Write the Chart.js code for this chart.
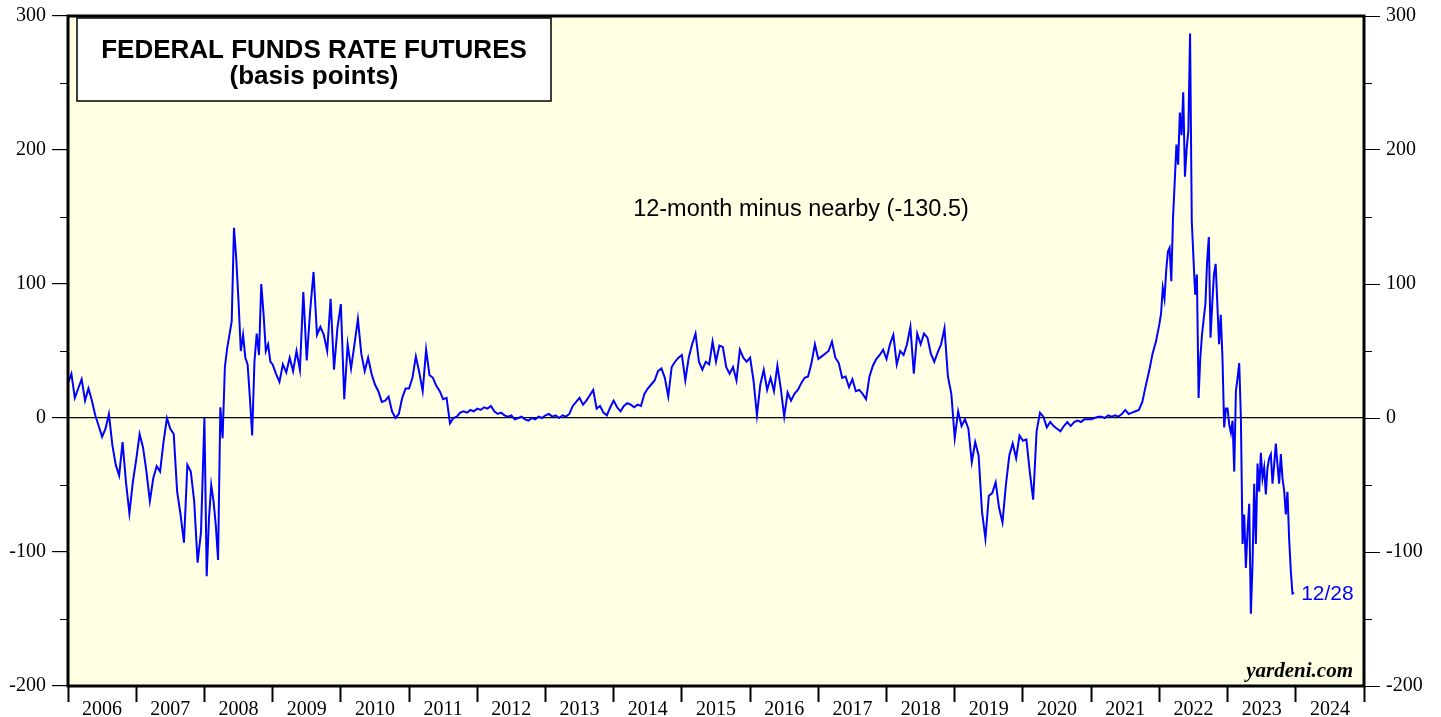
<!DOCTYPE html>
<html>
<head>
<meta charset="utf-8">
<script src="https://cdn.jsdelivr.net/npm/chart.js@4"></script>
<style>
  html, body { margin: 0; padding: 0; background: #ffffff; }
  #chart { display: block; }
</style>
</head>
<body>
<canvas id="chart" width="1441" height="717"></canvas>
<script>
// 12-month minus nearby fed funds futures spread, basis points.
// One array per calendar year, values at even steps within the year.
const years = [2006, 2007, 2008, 2009, 2010, 2011, 2012, 2013, 2014, 2015, 2016, 2017, 2018, 2019, 2020, 2021, 2022, 2023];

const s2006 = [26, 33, 15, 22, 29, 13, 22, 13, 2, -6, -14, -8, 3, -20, -35, -43, -18, -48, -71, -48];
const s2007 = [-31, -12, -22, -40, -62, -45, -36, -40, -18, 0, -8, -12, -55, -72, -93, -35, -40, -62, -108, -85];
const s2008 = [0, -118, -75, -50, -62, -80, -106, 8, -15, 38, 52, 62, 72, 142, 119, 87, 50, 62, 45, 40,
               15, -13, 42, 63, 47, 100, 78, 50, 55, 42];
const s2009 = [40, 33, 27, 40, 34, 45, 35, 50, 36, 94, 43, 80, 109, 62, 68, 62, 50, 89, 36, 67];
const s2010 = [85, 14, 55, 37, 55, 74, 48, 35, 45, 33, 25, 20, 12, 13, 16, 5, 0, 3, 15, 22];
const s2011 = [22, 30, 46, 34, 20, 51, 32, 30, 24, 20, 14, 15, -4, 0, 1, 4, 5, 4, 6, 5];
const s2012 = [7, 6, 8, 7, 9, 5, 3, 4, 2, 1, 2, -1, 0, 1, -1, -2, 0, -1, 1, 0];
const s2013 = [2, 3, 1, 2, 0, 2, 1, 3, 9, 12, 15, 10, 13, 17, 21, 7, 9, 4, 2, 8];
const s2014 = [13, 8, 5, 9, 11, 10, 8, 10, 9, 18, 22, 25, 28, 35, 37, 30, 16, 38, 42, 45];
const s2015 = [47, 28, 45, 55, 63, 42, 36, 42, 40, 57, 42, 54, 53, 38, 33, 38, 28, 51, 45, 42];
const s2016 = [45, 28, 2, 25, 36, 21, 30, 20, 39, 22, 1, 19, 13, 18, 21, 26, 30, 31, 41, 55];
const s2017 = [44, 46, 48, 50, 57, 45, 41, 30, 31, 23, 29, 20, 21, 18, 14, 31, 39, 44, 47, 51];
const s2018 = [44, 55, 62, 40, 50, 47, 55, 68, 33, 63, 55, 63, 60, 48, 42, 49, 55, 67, 31, 18];
const s2019 = [-15, 5, -6, -1, -8, -33, -18, -28, -70, -90, -58, -56, -48, -67, -78, -50, -28, -19, -30, -13];
const s2020 = [-17, -16, -40, -61, -10, 4, 1, -7, -3, -6, -8, -10, -6, -3, -6, -3, -2, -3, -1, -1];
const s2021 = [-1, 0, 1, 1, 0, 2, 1, 2, 1, 3, 6, 3, 4, 5, 6, 12, 24, 35, 48, 57];
const s2022 = [70, 78, 97, 89, 110, 124, 127, 102, 149, 176, 204, 189, 228, 211, 243, 180, 201, 214, 287, 147,
               119, 92, 107, 15, 45, 62, 74, 85, 117, 135, 60, 85, 107, 115, 85, 55, 77, 45, -7, 7];
const s2023 = [7, -5, -11, -2, -40, 20, 30, 41, 0, -94, -72, -112, -84, -64, -146, -109, -49, -94, -34, -55,
               -26, -45, -37, -57, -37, -30, -27, -49, -35, -19, -35, -49, -27, -45, -54, -72, -55, -90, -114, -131,
               -130.5];

const spreadByYear = [s2006, s2007, s2008, s2009, s2010, s2011, s2012, s2013, s2014,
                      s2015, s2016, s2017, s2018, s2019, s2020, s2021, s2022, s2023];

const yearLabels = [2006, 2007, 2008, 2009, 2010, 2011, 2012, 2013, 2014, 2015, 2016, 2017, 2018, 2019, 2020, 2021, 2022, 2023, 2024];
const majorTicks = [-200, -100, 0, 100, 200, 300];
const minorTicks = [-150, -50, 50, 150, 250];
const lastLabel = "12/28";
const seriesLabel = "12-month minus nearby (-130.5)";

// build {x, y} points, x as decimal year
const points = [];
years.forEach((yr, k) => {
  const vals = spreadByYear[k];
  vals.forEach((v, i) => points.push({ x: yr + i / vals.length, y: v }));
});

const SERIF = "'Liberation Serif', 'Times New Roman', serif";
const SANS = "'Liberation Sans', Arial, sans-serif";

// plot background, frame, minor ticks and the text boxes
const decor = {
  id: "decor",
  beforeDraw(chart) {
    const { ctx, chartArea: a } = chart;
    ctx.save();
    ctx.fillStyle = "#FFFFE3";
    ctx.fillRect(a.left, a.top, a.right - a.left, a.bottom - a.top);
    ctx.restore();
  },
  afterDraw(chart) {
    const { ctx, chartArea: a } = chart;
    const yScale = chart.scales.y;
    const xScale = chart.scales.x;
    ctx.save();

    // minor ticks on both sides
    ctx.strokeStyle = "#000";
    ctx.lineWidth = 1;
    minorTicks.forEach((v) => {
      const py = Math.round(yScale.getPixelForValue(v)) + 0.5;
      ctx.beginPath();
      ctx.moveTo(a.left - 8, py);
      ctx.lineTo(a.left, py);
      ctx.moveTo(a.right, py);
      ctx.lineTo(a.right + 8, py);
      ctx.stroke();
    });

    // frame
    ctx.lineWidth = 3;
    ctx.strokeRect(a.left, a.top, a.right - a.left, a.bottom - a.top);

    // title box
    ctx.fillStyle = "#fff";
    ctx.fillRect(77, 18, 474, 83);
    ctx.lineWidth = 1.5;
    ctx.strokeRect(77, 18, 474, 83);
    ctx.fillStyle = "#000";
    ctx.textAlign = "center";
    ctx.textBaseline = "alphabetic";
    ctx.font = "bold 26px " + SANS;
    ctx.fillText("FEDERAL FUNDS RATE FUTURES", 314, 58);
    ctx.fillText("(basis points)", 314, 84);

    // series caption
    ctx.font = "23.5px " + SANS;
    ctx.fillText(seriesLabel, 801, 216);

    // last date label next to the final point
    const last = points[points.length - 1];
    ctx.fillStyle = "#0000FF";
    ctx.textAlign = "left";
    ctx.textBaseline = "middle";
    ctx.font = "21px " + SANS;
    ctx.fillText(lastLabel, xScale.getPixelForValue(last.x) + 7, yScale.getPixelForValue(last.y) + 1);

    // source
    ctx.fillStyle = "#000";
    ctx.textAlign = "right";
    ctx.textBaseline = "alphabetic";
    ctx.font = "bold italic 21px " + SERIF;
    ctx.fillText("yardeni.com", a.right - 11, a.bottom - 9);

    ctx.restore();
  },
};

const yTickColor = (c) => (majorTicks.includes(c.tick.value) ? "#000" : "rgba(0,0,0,0)");

new Chart(document.getElementById("chart"), {
  type: "line",
  data: {
    datasets: [
      {
        data: points,
        borderColor: "#0000FF",
        borderWidth: 2,
        pointRadius: 0,
        tension: 0,
        fill: false,
      },
    ],
  },
  options: {
    responsive: false,
    animation: false,
    layout: { padding: { top: 14, left: 0, right: 0, bottom: 0 } },
    plugins: { legend: { display: false }, tooltip: { enabled: false } },
    scales: {
      x: {
        type: "linear",
        min: 2006,
        max: 2025,
        afterBuildTicks: (scale) => {
          scale.ticks = yearLabels.map((yr) => ({ value: yr + 0.5 }));
        },
        afterFit: (scale) => { scale.height = 31; },
        border: { display: false },
        grid: {
          offset: true,
          drawOnChartArea: false,
          tickLength: 16,
          tickWidth: 2,
          color: "#000",
        },
        ticks: {
          autoSkip: false,
          maxRotation: 0,
          padding: -4,
          color: "#000",
          font: { family: SERIF, size: 20 },
          callback: (v) => String(Math.floor(v)),
        },
      },
      y: {
        position: "left",
        min: -200,
        max: 300,
        afterFit: (scale) => { scale.width = 68; },
        border: { display: false },
        grid: {
          tickLength: 16,
          lineWidth: 1.2,
          color: (c) => (c.tick.value === 0 ? "#000" : "rgba(0,0,0,0)"),
          tickColor: yTickColor,
        },
        ticks: {
          stepSize: 100,
          padding: 6,
          color: "#000",
          font: { family: SERIF, size: 20, lineHeight: 1 },
        },
      },
      y2: {
        position: "right",
        min: -200,
        max: 300,
        afterFit: (scale) => { scale.width = 77; },
        border: { display: false },
        grid: {
          drawOnChartArea: false,
          tickLength: 16,
          tickColor: yTickColor,
        },
        ticks: {
          stepSize: 100,
          padding: 6,
          color: "#000",
          font: { family: SERIF, size: 20, lineHeight: 1 },
        },
      },
    },
  },
  plugins: [decor],
});
</script>
</body>
</html>
